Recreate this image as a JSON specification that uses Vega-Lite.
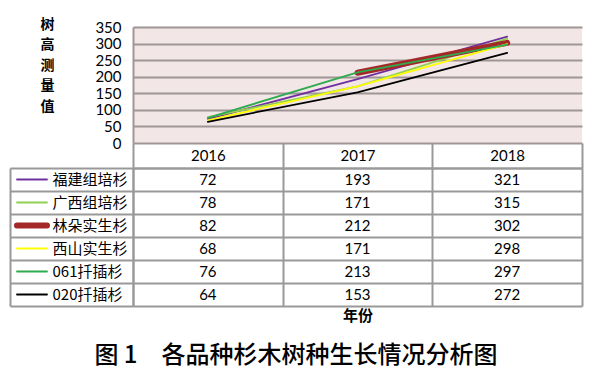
{
  "$schema": "https://vega.github.io/schema/vega-lite/v6.json",
  "padding": {"left": 9, "top": 17, "right": 10, "bottom": 6},
  "autosize": {"type": "pad"},
  "bounds": "flush",
  "spacing": 25,
  "background": "#ffffff",
  "datasets": {
    "heights": [
      {"series": "福建组培杉", "year": "2016", "value": 72},
      {"series": "福建组培杉", "year": "2017", "value": 193},
      {"series": "福建组培杉", "year": "2018", "value": 321},
      {"series": "广西组培杉", "year": "2016", "value": 78},
      {"series": "广西组培杉", "year": "2017", "value": 171},
      {"series": "广西组培杉", "year": "2018", "value": 315},
      {"series": "林朵实生杉", "year": "2016", "value": 82},
      {"series": "林朵实生杉", "year": "2017", "value": 212},
      {"series": "林朵实生杉", "year": "2018", "value": 302},
      {"series": "西山实生杉", "year": "2016", "value": 68},
      {"series": "西山实生杉", "year": "2017", "value": 171},
      {"series": "西山实生杉", "year": "2018", "value": 298},
      {"series": "061扦插杉", "year": "2016", "value": 76},
      {"series": "061扦插杉", "year": "2017", "value": 213},
      {"series": "061扦插杉", "year": "2018", "value": 297},
      {"series": "020扦插杉", "year": "2016", "value": 64},
      {"series": "020扦插杉", "year": "2017", "value": 153},
      {"series": "020扦插杉", "year": "2018", "value": 272}
    ]
  },
  "title": {
    "text": "图 1　各品种杉木树种生长情况分析图",
    "orient": "bottom",
    "anchor": "middle",
    "font": "Noto Sans CJK SC",
    "fontSize": 24,
    "fontWeight": 500,
    "color": "#000000",
    "offset": 21
  },
  "vconcat": [
    {
      "width": 449,
      "height": 116,
      "view": {"fill": "#F3E6E6", "stroke": null},
      "data": {"name": "heights"},
      "transform": [{"filter": "datum.series != '林朵实生杉' || datum.year != '2016'"}],
      "mark": {"type": "line", "strokeCap": "round", "strokeJoin": "round"},
      "encoding": {
        "x": {"field": "year", "type": "ordinal", "scale": {"type": "band", "paddingInner": 0, "paddingOuter": 0}, "axis": null},
        "y": {
          "field": "value", "type": "quantitative",
          "scale": {"domain": [0, 350], "nice": false},
          "axis": {
            "values": [0, 50, 100, 150, 200, 250, 300, 350],
            "grid": true, "gridColor": "#A09696", "gridWidth": 2,
            "domain": true, "domainColor": "#A09696", "domainWidth": 2,
            "ticks": false, "labelPadding": 12,
            "labelFont": "Lato", "labelFontSize": 15, "labelColor": "#000000",
            "title": ["树", "高", "测", "量", "值"],
            "titleAngle": 0, "titleX": -86, "titleY": -10,
            "titleAlign": "center", "titleBaseline": "top",
            "titleFont": "Noto Sans CJK SC", "titleFontSize": 14, "titleFontWeight": "bold",
            "titleLineHeight": 20.5, "titleColor": "#000000"
          }
        },
        "color": {
          "field": "series", "type": "nominal",
          "scale": {
            "domain": ["福建组培杉", "广西组培杉", "林朵实生杉", "西山实生杉", "061扦插杉", "020扦插杉"],
            "range": ["#7030A0", "#92D050", "#A52828", "#FFFF00", "#2EAA4F", "#000000"]
          },
          "legend": {
            "title": null, "orient": "none", "legendX": -119, "legendY": 141,
            "clipHeight": 23, "rowPadding": 0, "padding": 0, "symbolType": "stroke", "symbolSize": 900,
            "labelExpr": "''", "labelFontSize": 1, "labelOffset": 0,
            "encode": {"symbols": {"update": {"strokeCap": {"value": "round"}}}}
          }
        },
        "strokeWidth": {
          "field": "series", "type": "nominal",
          "scale": {
            "type": "ordinal",
            "domain": ["福建组培杉", "广西组培杉", "林朵实生杉", "西山实生杉", "061扦插杉", "020扦插杉"],
            "range": [1.8, 1.8, 6, 1.8, 1.8, 1.8]
          },
          "legend": {
            "title": null, "orient": "none", "legendX": -119, "legendY": 141,
            "clipHeight": 23, "rowPadding": 0, "padding": 0, "symbolType": "stroke", "symbolSize": 900,
            "labelExpr": "''", "labelFontSize": 1, "labelOffset": 0,
            "encode": {"symbols": {"update": {"strokeCap": {"value": "round"}}}}
          }
        }
      }
    },
    {
      "width": 449,
      "height": 138,
      "data": {"name": "heights"},
      "layer": [
        {
          "mark": {"type": "text", "font": "Lato", "fontSize": 15, "color": "#000000"},
          "encoding": {
            "x": {
              "field": "year", "type": "ordinal",
              "scale": {"type": "band", "paddingInner": 0, "paddingOuter": 0},
              "axis": {
                "orient": "top", "labelAngle": 0,
                "tickBand": "extent", "ticks": true, "tickSize": 25, "tickColor": "#999999", "tickWidth": 2,
                "labelPadding": -12.5, "labelBaseline": "middle",
                "labelFont": "Lato", "labelFontSize": 15, "labelColor": "#000000",
                "domain": true, "domainColor": "#999999", "domainWidth": 2,
                "grid": true, "gridColor": "#999999", "gridWidth": 2,
                "title": "年份", "titleY": 147, "titleBaseline": "middle",
                "titleFont": "Noto Sans CJK SC", "titleFontSize": 15, "titleFontWeight": "bold", "titleColor": "#000000"
              }
            },
            "y": {
              "field": "series", "type": "nominal",
              "scale": {"type": "band", "domain": ["福建组培杉", "广西组培杉", "林朵实生杉", "西山实生杉", "061扦插杉", "020扦插杉"], "paddingInner": 0, "paddingOuter": 0},
              "axis": {
                "title": null,
                "domain": true, "domainColor": "#999999", "domainWidth": 2,
                "tickBand": "extent", "ticks": true, "tickSize": 123, "tickColor": "#999999", "tickWidth": 2,
                "grid": true, "gridColor": "#999999", "gridWidth": 2,
                "labelAlign": "left", "labelPadding": -42, "labelBaseline": "middle",
                "labelFont": "Noto Sans CJK SC", "labelFontSize": 15, "labelColor": "#000000"
              }
            },
            "text": {"field": "value", "type": "quantitative"}
          }
        },
        {
          "mark": {"type": "text", "opacity": 0},
          "encoding": {
            "y": {
              "field": "series", "type": "nominal",
              "axis": {"orient": "left", "offset": 123, "domain": true, "domainColor": "#999999", "domainWidth": 2, "ticks": false, "labels": false, "grid": false, "title": null}
            }
          }
        }
      ],
      "resolve": {"axis": {"y": "independent"}}
    }
  ],
  "resolve": {"legend": {"color": "independent", "strokeWidth": "independent"}},
  "config": {"view": {"stroke": null}}
}
